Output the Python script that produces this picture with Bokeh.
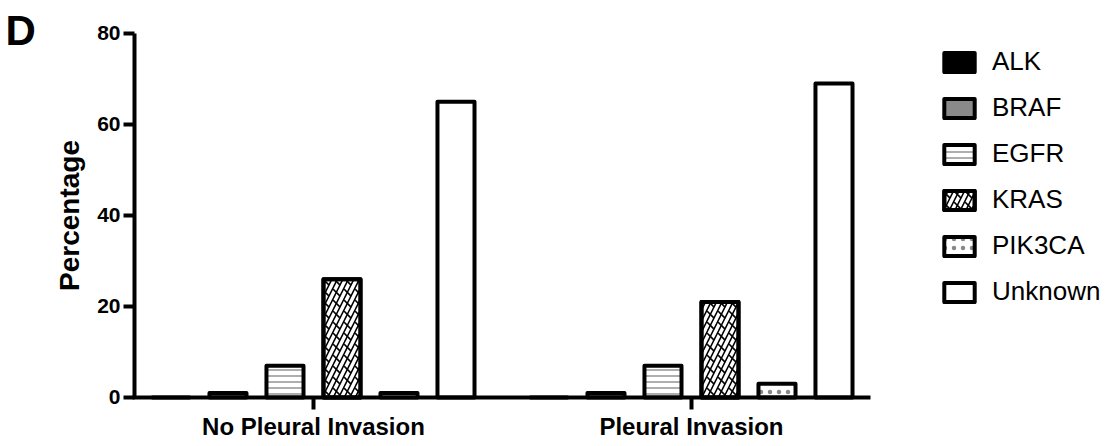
from bokeh.plotting import figure
from bokeh.models import (ColumnDataSource, Range1d, FixedTicker, Legend, LegendItem, Label)
from bokeh.transform import dodge
from bokeh.embed import file_html
from bokeh.resources import INLINE

categories = ["No Pleural Invasion", "Pleural Invasion"]
genes = ["ALK", "BRAF", "EGFR", "KRAS", "PIK3CA", "Unknown"]
no_pleural = [0, 1, 7, 26, 1, 65]
pleural = [0, 1, 7, 21, 3, 69]
y_ticks = [0, 20, 40, 60, 80]

data = {"x": list(range(len(categories)))}
for i, g in enumerate(genes):
    data[g] = [no_pleural[i], pleural[i]]
src = ColumnDataSource(data)

# frame covers the whole canvas; both axes are placed at fixed locations and bounded.
p = figure(width=1110, height=446, output_backend="svg", toolbar_location=None,
           x_range=Range1d(-0.828, 2.1085), y_range=Range1d(-10.77, 87.25),
           min_border_left=0, min_border_right=0, min_border_top=0, min_border_bottom=0)
p.outline_line_color = None
p.xgrid.visible = False
p.ygrid.visible = False
p.background_fill_color = "white"
p.border_fill_color = "white"

step = 0.1508
bw = 0.098
styles = {
    "ALK": dict(fill_color="black"),
    "BRAF": dict(fill_color="#8a8a8a"),
    "EGFR": dict(fill_color="white", hatch_pattern="horizontal_line", hatch_color="#777777", hatch_scale=6, hatch_weight=1.2),
    "KRAS": dict(fill_color="white", hatch_pattern="right_diagonal_line", hatch_color="black", hatch_scale=11, hatch_weight=1.6),
    "PIK3CA": dict(fill_color="white", hatch_pattern="dot", hatch_color="#888888", hatch_scale=9, hatch_weight=1.2),
    "Unknown": dict(fill_color="white"),
}
items = []
for i, g in enumerate(genes):
    off = (i - 2.5) * step
    rs = []
    r = p.vbar(x=dodge("x", off), top=g, width=bw, bottom=0, source=src,
               line_color="black", line_width=4, line_join="round", **styles[g])
    rs.append(r)
    if g == "KRAS":
        r2 = p.vbar(x=dodge("x", off), top=g, width=bw, bottom=0, source=src,
                    fill_alpha=0, line_color="black", line_width=4, line_join="round",
                    hatch_pattern="left_diagonal_dash", hatch_color="black", hatch_scale=11, hatch_weight=1.6)
        rs.append(r2)
    items.append(LegendItem(label=g, renderers=rs))

# axes
ya = p.yaxis[0]
ya.fixed_location = -0.4735
ya.bounds = (0, 80)
ya.ticker = FixedTicker(ticks=y_ticks)
ya.axis_line_width = 4
ya.major_tick_line_width = 4
ya.major_tick_out = 11
ya.major_tick_in = 0
ya.minor_tick_line_color = None
ya.major_label_text_font = "Liberation Sans"
ya.major_label_text_font_style = "bold"
ya.major_label_text_font_size = "21px"
ya.major_label_text_color = "black"
ya.major_label_standoff = 3
ya.axis_label = "Percentage"
ya.axis_label_text_font = "Liberation Sans"
ya.axis_label_text_font_style = "bold"
ya.axis_label_text_font_size = "28px"
ya.axis_label_text_color = "black"
ya.axis_label_standoff = 9

xa = p.xaxis[0]
xa.fixed_location = 0
xa.bounds = (-0.479, 1.4735)
xa.ticker = FixedTicker(ticks=[0, 1])
xa.major_label_overrides = {i: c for i, c in enumerate(categories)}
xa.axis_line_width = 4
xa.major_tick_line_width = 4
xa.major_tick_out = 12
xa.major_tick_in = 0
xa.minor_tick_line_color = None
xa.major_label_text_font = "Liberation Sans"
xa.major_label_text_font_style = "bold"
xa.major_label_text_font_size = "24px"
xa.major_label_text_color = "black"
xa.major_label_standoff = 4

legend = Legend(items=items, location=(940, 139), orientation="vertical")
legend.label_text_font = "Liberation Sans"
legend.label_text_font_size = "26px"
legend.label_text_color = "black"
legend.glyph_width = 38
legend.glyph_height = 24
legend.label_height = 24
legend.label_standoff = 14
legend.spacing = 15
legend.padding = 0
legend.margin = 0
legend.border_line_color = None
legend.background_fill_alpha = 0
p.add_layout(legend, "center")

p.add_layout(Label(x=5, y=416, x_units="screen", y_units="screen", text="D",
                   text_baseline="alphabetic",
                   text_font="Liberation Sans", text_font_style="bold", text_font_size="42px",
                   text_color="black"))

open("out.html", "w").write(file_html(p, INLINE))
